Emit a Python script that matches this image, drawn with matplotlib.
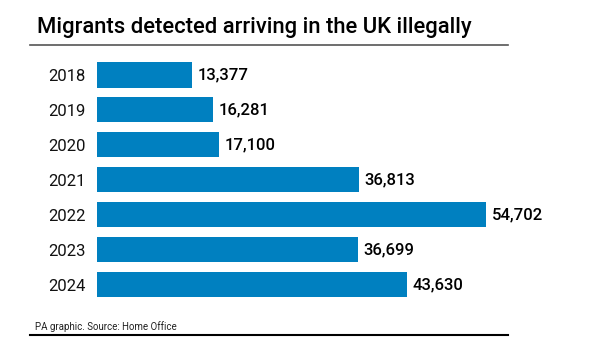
import matplotlib
matplotlib.use("Agg")
import matplotlib.pyplot as plt
from matplotlib.lines import Line2D

years = ["2018", "2019", "2020", "2021", "2022", "2023", "2024"]
arrivals = [13377, 16281, 17100, 36813, 54702, 36699, 43630]

bar_color = "#0080c0"
plt.rcParams["font.family"] = ["Roboto", "DejaVu Sans"]

W, H = 602, 346
fig = plt.figure(figsize=(W / 100, H / 100), dpi=100)
fig.patch.set_facecolor("white")

# axes placed in pixel terms
left, right = 97, 97 + 60000 * 0.00711
top, bottom = 57.5, 302
ax = fig.add_axes([left / W, 1 - bottom / H, (right - left) / W, (bottom - top) / H])

pos = list(range(len(years)))
ax.barh(pos, arrivals, height=0.72, color=bar_color)
ax.set_xlim(0, 60000)
ax.set_ylim(len(years) - 0.5, -0.5)
ax.set_yticks(pos)
ax.set_yticklabels(years, fontsize=12, color="#111111")
ax.tick_params(axis="y", length=0, pad=8)
ax.set_xticks([])
for s in ax.spines.values():
    s.set_visible(False)

for p, v in zip(pos, arrivals):
    ax.annotate(f"{v:,}", (v, p), xytext=(4, 0), textcoords="offset points",
                va="center", ha="left", fontsize=12, fontweight="medium")

fig.text(37 / W, 1 - 27 / H, "Migrants detected arriving in the UK illegally",
         fontsize=15.8, fontweight="medium", va="center", ha="left")
fig.add_artist(Line2D([30 / W, 508 / W], [1 - 45 / H] * 2, color="#555555", lw=1.2))
fig.text(35 / W, 1 - 327 / H, "PA graphic. Source: Home Office",
         fontsize=7, va="center", ha="left", color="#222222")
fig.add_artist(Line2D([30 / W, 508 / W], [1 - 335 / H] * 2, color="black", lw=1.5))

fig.savefig("out.png", dpi=100)
